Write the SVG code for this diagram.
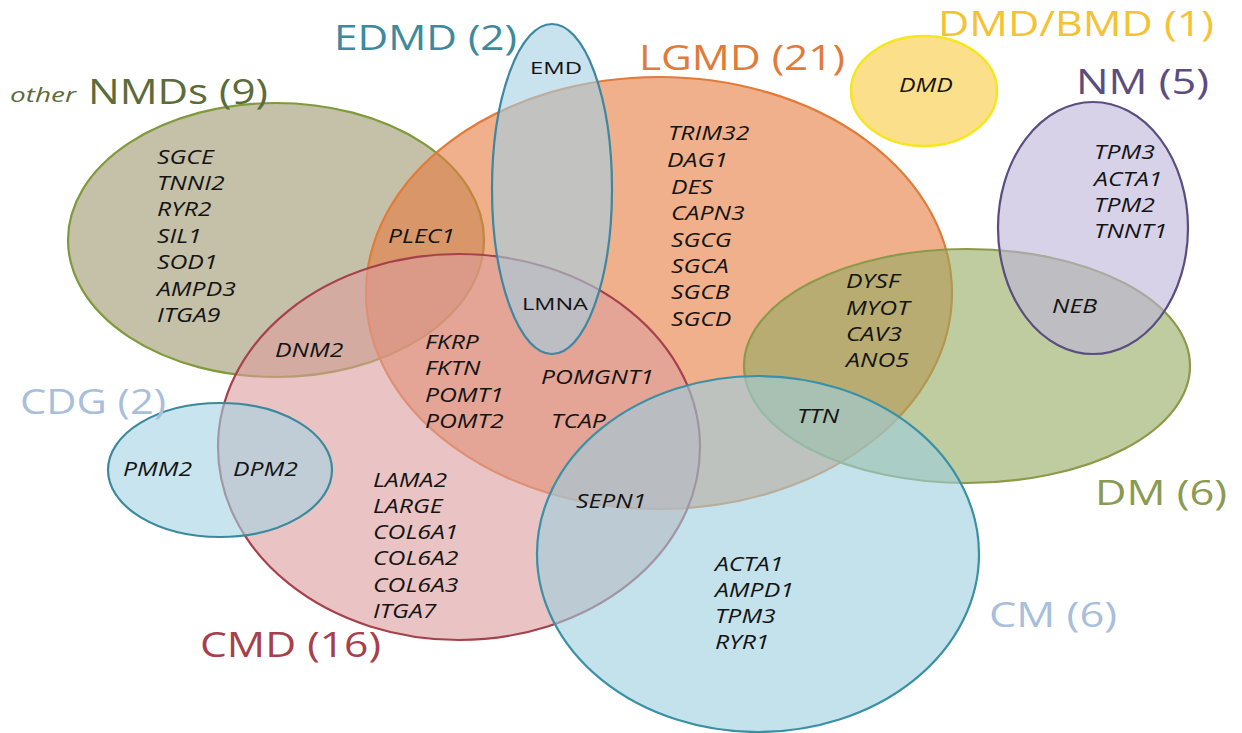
<svg xmlns="http://www.w3.org/2000/svg" width="1242" height="733" viewBox="0 0 1242 733">
<style>
.set{fill-opacity:0.6;stroke-width:2.2}
.lbl{font-family:"Open Sans","Liberation Sans",sans-serif;font-size:34px}
.g{font-family:"Open Sans","Liberation Sans",sans-serif;font-size:20px;font-style:italic;fill:#141414}
.u{font-family:"Open Sans","Liberation Sans",sans-serif;font-size:17px;fill:#141414}
</style>
<rect width="1242" height="733" fill="#ffffff"/>
<g id="sets">
<g id="set-other-nmds">
<ellipse class="set" cx="276" cy="240" rx="208" ry="137" fill="#9e966e" stroke="#7f9a3a"/>
<text x="10" y="102" font-family="Open Sans, Liberation Sans, sans-serif" font-size="20" font-style="italic" fill="#5c6b3a" textLength="66" lengthAdjust="spacingAndGlyphs">other</text>
<text class="lbl" x="88" y="104" fill="#5c6b3a" textLength="180" lengthAdjust="spacingAndGlyphs">NMDs (9)</text>
</g>
<g id="set-lgmd">
<ellipse class="set" cx="659" cy="293" rx="293" ry="216" fill="#e67b3f" stroke="#e07b39"/>
<text class="lbl" x="639" y="70" fill="#e07b39" textLength="206" lengthAdjust="spacingAndGlyphs">LGMD (21)</text>
</g>
<g id="set-cmd">
<ellipse class="set" cx="459" cy="447" rx="241" ry="193" fill="#dc9c9c" stroke="#a6404a"/>
<text class="lbl" x="200" y="657" fill="#a6404a" textLength="181" lengthAdjust="spacingAndGlyphs">CMD (16)</text>
</g>
<g id="set-edmd">
<ellipse class="set" cx="552" cy="189" rx="60" ry="165" fill="#a3cfe3" stroke="#3d87a3"/>
<text class="lbl" x="334" y="50" fill="#3d8a9c" textLength="183" lengthAdjust="spacingAndGlyphs">EDMD (2)</text>
</g>
<g id="set-dm">
<ellipse class="set" cx="967" cy="366" rx="223" ry="117" fill="#93aa61" stroke="#8a9a4a"/>
<text class="lbl" x="1095" y="505" fill="#8a9a50" textLength="132" lengthAdjust="spacingAndGlyphs">DM (6)</text>
</g>
<g id="set-nm">
<ellipse class="set" cx="1093" cy="228" rx="95" ry="126" fill="#beb4d9" stroke="#5c4d80"/>
<text class="lbl" x="1076" y="94" fill="#5c4d80" textLength="133" lengthAdjust="spacingAndGlyphs">NM (5)</text>
</g>
<g id="set-dmd-bmd">
<ellipse cx="924" cy="91" rx="73" ry="55" fill="#fcdf8a" stroke="#f5e61e" stroke-width="2.5"/>
<text class="lbl" x="938" y="36" fill="#f5c233" textLength="276" lengthAdjust="spacingAndGlyphs">DMD/BMD (1)</text>
</g>
<g id="set-cdg">
<ellipse class="set" cx="220" cy="470" rx="112" ry="67" fill="#a3d2e3" stroke="#3a8a9c"/>
<text class="lbl" x="20" y="414" fill="#a8bfdc" textLength="146" lengthAdjust="spacingAndGlyphs">CDG (2)</text>
</g>
<g id="set-cm">
<ellipse class="set" cx="758" cy="554" rx="221" ry="178" fill="#9dcfdf" stroke="#3a90a5"/>
<text class="lbl" x="989" y="627" fill="#a8bfdc" textLength="128" lengthAdjust="spacingAndGlyphs">CM (6)</text>
</g>
</g>
<text class="u" x="530" y="74" textLength="52" lengthAdjust="spacingAndGlyphs">EMD</text>
<text class="u" x="522" y="310" textLength="66" lengthAdjust="spacingAndGlyphs">LMNA</text>
<g id="genes" transform="scale(1.24,1)">
<g id="genes-other-nmds">
<text class="g" x="126.6" y="164">SGCE</text>
<text class="g" x="126.6" y="190">TNNI2</text>
<text class="g" x="126.6" y="216">RYR2</text>
<text class="g" x="126.6" y="243">SIL1</text>
<text class="g" x="126.6" y="269">SOD1</text>
<text class="g" x="126.6" y="296">AMPD3</text>
<text class="g" x="126.6" y="322">ITGA9</text>
</g>
<text class="g" x="312.9" y="243">PLEC1</text>
<text class="g" x="221.8" y="357">DNM2</text>
<g id="genes-lgmd">
<text class="g" x="538.7" y="140">TRIM32</text>
<text class="g" x="537.9" y="167">DAG1</text>
<text class="g" x="541.1" y="194">DES</text>
<text class="g" x="541.1" y="220">CAPN3</text>
<text class="g" x="541.1" y="247">SGCG</text>
<text class="g" x="541.1" y="273">SGCA</text>
<text class="g" x="541.1" y="299">SGCB</text>
<text class="g" x="541.1" y="326">SGCD</text>
</g>
<g id="genes-lgmd-cmd">
<text class="g" x="342.7" y="349">FKRP</text>
<text class="g" x="342.7" y="375">FKTN</text>
<text class="g" x="342.7" y="402">POMT1</text>
<text class="g" x="342.7" y="428">POMT2</text>
<text class="g" x="436.3" y="384">POMGNT1</text>
<text class="g" x="444.4" y="428">TCAP</text>
</g>
<text class="g" x="464.5" y="508">SEPN1</text>
<g id="genes-cmd">
<text class="g" x="300.8" y="487">LAMA2</text>
<text class="g" x="300.8" y="513">LARGE</text>
<text class="g" x="300.8" y="539">COL6A1</text>
<text class="g" x="300.8" y="565">COL6A2</text>
<text class="g" x="300.8" y="592">COL6A3</text>
<text class="g" x="300.8" y="618">ITGA7</text>
</g>
<text class="g" x="99.2" y="476">PMM2</text>
<text class="g" x="187.9" y="476">DPM2</text>
<g id="genes-lgmd-dm">
<text class="g" x="682.3" y="288">DYSF</text>
<text class="g" x="682.3" y="315">MYOT</text>
<text class="g" x="682.3" y="341">CAV3</text>
<text class="g" x="682.3" y="367">ANO5</text>
</g>
<text class="g" x="642.7" y="423">TTN</text>
<text class="g" x="848.4" y="313">NEB</text>
<g id="genes-nm">
<text class="g" x="882.3" y="159">TPM3</text>
<text class="g" x="882.3" y="186">ACTA1</text>
<text class="g" x="882.3" y="212">TPM2</text>
<text class="g" x="882.3" y="238">TNNT1</text>
</g>
<text class="g" x="725" y="92">DMD</text>
<g id="genes-cm">
<text class="g" x="576.6" y="571">ACTA1</text>
<text class="g" x="576.6" y="597">AMPD1</text>
<text class="g" x="576.6" y="623">TPM3</text>
<text class="g" x="576.6" y="649">RYR1</text>
</g>
</g>
</svg>
